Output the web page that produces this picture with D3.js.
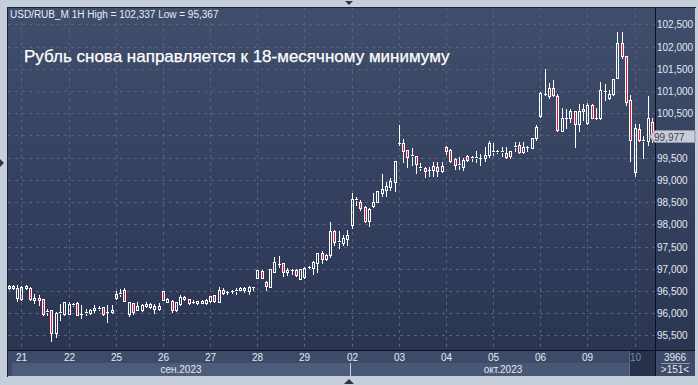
<!DOCTYPE html>
<html>
<head>
<meta charset="utf-8">
<title>USD/RUB_M 1H</title>
<script src="https://cdn.jsdelivr.net/npm/d3@7"></script>
<style>
  body { margin: 0; background: #c5cfdb; }
  svg { display: block; font-family: "Liberation Sans", Arial, sans-serif; }
</style>
</head>
<body>
<svg id="chart" width="698" height="385"></svg>
<script>
// hourly candles, USD/RUB_M, 20 sep - 10 oct 2023 (151 bars on screen)
var open = [96.57,96.62,96.33,96.31,96.57,96.57,96.30,96.34,96.31,96.03,96.06,95.56,96.00,95.97,
  95.98,96.18,96.22,95.97,96.00,96.01,96.07,96.09,96.14,96.02,96.03,
  96.34,96.43,96.51,95.98,96.22,96.07,96.07,96.15,96.21,96.10,96.09,
  96.49,96.26,96.28,96.06,96.20,96.37,96.31,96.25,96.22,96.23,96.22,
  96.27,96.40,96.25,96.52,96.48,96.49,96.49,96.53,96.52,96.50,96.58,
  96.80,96.95,96.70,96.58,96.93,97.11,97.12,96.92,96.97,96.98,96.76,
  96.82,97.04,97.01,97.12,97.36,97.21,97.31,97.84,97.61,97.57,97.66,
  97.99,98.55,98.51,98.40,98.07,98.41,98.51,98.71,98.77,98.83,98.96,
  99.82,99.82,99.67,99.54,99.54,99.28,99.26,99.22,99.22,99.30,99.19,
  99.74,99.68,99.46,99.35,99.30,99.54,99.50,99.50,99.49,99.49,99.55,
  99.63,99.62,99.63,99.60,99.53,99.73,99.79,99.62,99.73,99.71,99.94,
  100.43,100.93,100.88,101.06,100.89,100.10,100.39,100.39,100.55,100.25,100.54,
  100.28,100.69,100.39,100.39,101.00,100.84,100.93,101.29,102.08,101.80,100.80,
  99.17,100.15,99.88,99.88,100.30];
var high = [96.64,96.64,96.64,96.61,96.63,96.58,96.43,96.40,96.32,96.10,96.07,96.03,96.21,96.25,
  96.24,96.22,96.24,96.18,96.09,96.09,96.18,96.15,96.14,96.18,96.18,
  96.49,96.55,96.57,96.25,96.22,96.24,96.20,96.25,96.23,96.21,96.22,
  96.50,96.33,96.29,96.25,96.40,96.38,96.32,96.29,96.28,96.29,96.31,
  96.39,96.41,96.59,96.56,96.50,96.51,96.56,96.59,96.59,96.62,96.59,
  96.98,96.97,96.72,97.00,97.26,97.28,97.14,97.02,97.00,96.99,97.00,
  97.03,97.07,97.18,97.36,97.39,97.34,98.06,97.87,97.84,97.76,97.87,
  98.70,98.62,98.55,98.41,98.36,98.70,98.76,99.13,98.96,99.04,99.43,
  100.24,99.91,99.67,99.71,99.54,99.39,99.28,99.28,99.40,99.40,99.40,
  99.76,99.69,99.49,99.52,99.49,99.56,99.54,99.64,99.58,99.75,99.88,
  99.83,99.67,99.73,99.73,99.65,99.85,99.86,99.85,99.77,99.94,100.24,
  100.97,101.50,101.18,101.25,100.93,100.61,100.60,100.60,100.55,100.70,100.70,
  100.73,100.70,100.61,101.21,101.15,101.03,101.27,102.337,102.34,101.80,100.90,
  100.25,100.25,99.98,100.88,100.40];
var low = [96.55,96.55,96.27,96.30,96.54,96.30,96.22,96.18,95.95,95.95,95.367,95.46,95.84,95.96,
  95.97,96.17,95.95,95.89,95.95,95.99,96.03,96.06,95.95,95.79,96.01,
  96.31,96.39,96.27,95.94,95.97,96.06,96.05,96.13,96.12,96.01,96.07,
  96.29,96.24,96.03,96.04,96.18,96.30,96.20,96.22,96.21,96.22,96.21,
  96.26,96.25,96.24,96.43,96.43,96.46,96.44,96.51,96.47,96.43,96.51,
  96.78,96.78,96.53,96.58,96.93,97.03,96.83,96.85,96.88,96.84,96.76,
  96.80,97.01,96.89,96.93,97.13,97.19,97.27,97.54,97.46,97.54,97.54,
  97.91,98.44,98.32,98.06,97.96,98.40,98.50,98.64,98.64,98.77,98.76,
  99.79,99.41,99.28,99.34,99.16,99.22,99.06,99.09,99.09,99.09,99.17,
  99.58,99.41,99.24,99.24,99.22,99.43,99.43,99.41,99.34,99.43,99.52,
  99.56,99.61,99.53,99.50,99.49,99.65,99.60,99.60,99.64,99.71,99.90,
  100.42,100.91,100.85,100.88,100.09,100.09,100.16,100.31,99.73,100.10,100.35,
  100.25,100.39,100.37,100.37,100.80,100.82,100.92,101.29,101.74,100.69,99.43,
  99.08,99.88,99.49,99.79,99.85];
var close = [96.62,96.57,96.57,96.59,96.60,96.31,96.34,96.30,95.97,96.05,95.55,96.00,96.03,96.24,
  96.21,96.21,95.95,95.99,96.03,96.06,96.11,96.12,95.98,96.03,96.07,
  96.43,96.45,96.27,96.25,96.03,96.16,96.18,96.21,96.13,96.16,96.16,
  96.30,96.31,96.07,96.24,96.36,96.31,96.22,96.26,96.27,96.27,96.30,
  96.38,96.28,96.52,96.46,96.48,96.50,96.53,96.56,96.57,96.59,96.58,
  96.97,96.80,96.61,97.00,97.15,97.11,96.92,96.98,96.96,96.86,97.00,
  97.02,97.04,97.15,97.36,97.22,97.31,97.84,97.61,97.62,97.69,97.76,
  98.57,98.56,98.36,98.07,98.35,98.50,98.74,98.79,98.86,98.98,99.43,
  99.84,99.66,99.51,99.55,99.36,99.27,99.19,99.23,99.31,99.19,99.31,
  99.65,99.43,99.34,99.33,99.45,99.45,99.51,99.51,99.50,99.56,99.82,
  99.66,99.65,99.64,99.51,99.64,99.77,99.62,99.73,99.74,99.94,100.20,
  100.95,100.94,101.06,100.90,100.13,100.39,100.40,100.55,100.25,100.54,100.60,
  100.69,100.40,100.40,101.03,101.01,100.93,101.27,102.08,101.80,100.75,99.90,
  100.16,99.90,99.89,100.40,99.977];

var dayLabels = ["21","22","25","26","27","28","29","02","03","04","05","06","09","10"];
var leadBars = 3;      // bars of 20 sep still on screen
var barsPerDay = 11;
var months = [{label: "сен.2023", from: 0, to: 7}, {label: "окт.2023", from: 7, to: 14}];
var priceTicks = d3.range(95.5, 102.51, 0.5);
var lastPrice = 99.977;

var svg = d3.select("#chart");
var plot = {l: 8, t: 8, r: 655, b: 350};

var x = d3.scaleLinear().domain([0, open.length - 1]).range([8.6, 651.8]);
var y = d3.scaleLinear().domain([95.17, 102.87]).range([plot.b, plot.t]);
var px = function(i) { return Math.round(x(i)); };
var py = function(v) { return Math.round(y(v)); };
var fmt = function(v) { return d3.format(".3f")(v).replace(".", ","); };

var defs = svg.append("defs");
var grad = defs.append("linearGradient").attr("id", "bg").attr("x1", 0).attr("y1", 0).attr("x2", 0).attr("y2", 1);
grad.append("stop").attr("offset", 0).attr("stop-color", "#404e6c");
grad.append("stop").attr("offset", 1).attr("stop-color", "#2a3552");
defs.append("clipPath").attr("id", "plotClip").append("rect")
  .attr("x", plot.l).attr("y", plot.t).attr("width", plot.r - plot.l).attr("height", plot.b - plot.t);

// outer frame
svg.append("rect").attr("width", 698).attr("height", 385).attr("fill", "#c5cfdb");
svg.append("rect").attr("x", plot.l).attr("y", plot.t).attr("width", 695 - plot.l).attr("height", plot.b - plot.t)
  .attr("fill", "url(#bg)");

// grid
var dayStarts = dayLabels.map(function(d, k) { return leadBars + k * barsPerDay; });
svg.append("g").selectAll("line").data(priceTicks).join("line")
  .attr("x1", plot.l).attr("x2", plot.r)
  .attr("y1", function(d) { return py(d) + 0.5; }).attr("y2", function(d) { return py(d) + 0.5; })
  .attr("stroke", "#56637f").attr("stroke-dasharray", "3,4");
svg.append("g").selectAll("line").data(dayStarts).join("line")
  .attr("x1", function(d) { return px(d) + 0.5; }).attr("x2", function(d) { return px(d) + 0.5; })
  .attr("y1", plot.t).attr("y2", plot.b)
  .attr("stroke", "#56637f").attr("stroke-dasharray", "3,4");

// candles
var bars = d3.range(open.length).map(function(i) {
  var top = py(Math.max(open[i], close[i])), bot = py(Math.min(open[i], close[i]));
  return {i: i, cx: px(i), top: top, bot: bot, hi: py(high[i]), lo: py(low[i]), down: close[i] < open[i]};
});
var cg = svg.append("g").attr("clip-path", "url(#plotClip)");
cg.selectAll("line.hi").data(bars).join("line").attr("class", "hi")
  .attr("x1", function(d) { return d.cx + 0.5; }).attr("x2", function(d) { return d.cx + 0.5; })
  .attr("y1", function(d) { return d.hi; }).attr("y2", function(d) { return d.top; })
  .attr("stroke", "#ffffff");
cg.selectAll("line.lo").data(bars).join("line").attr("class", "lo")
  .attr("x1", function(d) { return d.cx + 0.5; }).attr("x2", function(d) { return d.cx + 0.5; })
  .attr("y1", function(d) { return d.bot + 1; }).attr("y2", function(d) { return d.lo + 1; })
  .attr("stroke", "#ffffff");
var flat = bars.filter(function(d) { return d.bot - d.top < 2; });
var solid = bars.filter(function(d) { return d.bot - d.top >= 2; });
cg.selectAll("line.tick").data(flat).join("line").attr("class", "tick")
  .attr("x1", function(d) { return d.cx - 1; }).attr("x2", function(d) { return d.cx + 2; })
  .attr("y1", function(d) { return d.top + 0.5; }).attr("y2", function(d) { return d.top + 0.5; })
  .attr("stroke", "#ffffff");
cg.selectAll("rect.body").data(solid).join("rect").attr("class", "body")
  .attr("x", function(d) { return d.cx - 0.5; }).attr("width", 2)
  .attr("y", function(d) { return d.top + 0.5; }).attr("height", function(d) { return d.bot - d.top; })
  .attr("fill", function(d) { return d.down ? "#e8163c" : "none"; })
  .attr("stroke", "#ffffff");

// frame lines
svg.append("line").attr("x1", plot.r + 0.5).attr("x2", plot.r + 0.5).attr("y1", plot.t).attr("y2", 376).attr("stroke", "#0d111b");
svg.append("line").attr("x1", plot.l).attr("x2", 695).attr("y1", plot.b + 0.5).attr("y2", plot.b + 0.5).attr("stroke", "#0d111b");
svg.append("line").attr("x1", plot.l - 0.5).attr("x2", plot.l - 0.5).attr("y1", plot.t - 1).attr("y2", 377).attr("stroke", "#1c2233");
svg.append("line").attr("x1", plot.l - 1).attr("x2", 696).attr("y1", plot.t - 0.5).attr("y2", plot.t - 0.5).attr("stroke", "#1c2233");

// price axis (the tick hidden under the last-price marker is not drawn)
var ly = py(lastPrice) + 0.5;
svg.append("g").selectAll("text")
  .data(priceTicks.filter(function(d) { return Math.abs(py(d) - ly) > 9; }))
  .join("text")
  .attr("x", 657).attr("y", function(d) { return py(d) + 4; })
  .attr("font-size", "10px").attr("fill", "#e3e9f2")
  .text(fmt);
svg.append("path")
  .attr("d", "M649," + ly + "L655," + (ly - 6) + "H695V" + (ly + 6) + "H655Z")
  .attr("fill", "#c9ced6").attr("stroke", "#8d96a6");
svg.append("text").attr("x", 654).attr("y", ly + 4).attr("font-size", "10px").attr("fill", "#3a4050")
  .text(fmt(lastPrice));

// time axis
var axisG = svg.append("g");
axisG.append("rect").attr("x", plot.l).attr("y", 351).attr("width", plot.r - plot.l).attr("height", 12).attr("fill", "#3e4b68");
months.forEach(function(m, k) {
  var x0 = k === 0 ? 12 : px(dayStarts[m.from]) - 1;
  var x1 = k === 0 ? px(dayStarts[m.to]) - 2 : plot.r;
  axisG.append("rect").attr("x", x0).attr("y", 363).attr("width", x1 - x0).attr("height", 13)
    .attr("fill", k === 0 ? "#4d5c7a" : "#485775");
  axisG.append("text").attr("x", (x0 + x1) / 2).attr("y", 373).attr("text-anchor", "middle")
    .attr("font-size", "10px").attr("fill", "#e3e9f2").text(m.label);
});
axisG.append("rect").attr("x", 8).attr("y", 363).attr("width", 4).attr("height", 13).attr("fill", "#3e4b68");
var lastDay = px(dayStarts[dayStarts.length - 1]) - 6;
axisG.append("rect").attr("x", lastDay).attr("y", 351).attr("width", plot.r - lastDay).attr("height", 25).attr("fill", "#27314b");
axisG.append("line").attr("x1", lastDay + 0.5).attr("x2", lastDay + 0.5).attr("y1", 351).attr("y2", 376).attr("stroke", "#5d6a86");
axisG.selectAll("text.day").data(dayLabels).join("text").attr("class", "day")
  .attr("x", function(d, k) { return px(dayStarts[k]) + 0.5; }).attr("y", 361)
  .attr("text-anchor", "middle").attr("font-size", "10px")
  .attr("fill", function(d, k) { return k === dayLabels.length - 1 ? "#7d8aa6" : "#e3e9f2"; })
  .text(function(d) { return d; });

// bar counter box
svg.append("rect").attr("x", plot.r + 1).attr("y", 351).attr("width", 39).attr("height", 25).attr("fill", "#3e4b68");
svg.append("text").attr("x", 675).attr("y", 361).attr("text-anchor", "middle").attr("font-size", "10px").attr("fill", "#e3e9f2").text("3966");
svg.append("line").attr("x1", 661).attr("x2", 690).attr("y1", 363.5).attr("y2", 363.5).attr("stroke", "#8c97ad");
svg.append("text").attr("x", 675).attr("y", 373).attr("text-anchor", "middle").attr("font-size", "10px").attr("fill", "#e3e9f2").text(">151<");

// headers
svg.append("text").attr("x", 10).attr("y", 18).attr("font-size", "10px").attr("fill", "#e8edf5")
  .text("USD/RUB_M 1H High = 102,337 Low = 95,367");
svg.append("text").attr("x", 24).attr("y", 62).attr("font-size", "17px").attr("fill", "#ffffff")
  .attr("stroke", "#ffffff").attr("stroke-width", 0.25)
  .text("Рубль снова направляется к 18-месячному минимуму");

// scroll markers on the frame
svg.append("path").attr("d", "M345,1H353L349,5Z").attr("fill", "#2f3547");
svg.append("path").attr("d", "M0,159L4,163L0,167Z").attr("fill", "#2f3547");
svg.append("path").attr("d", "M344,384H354L349,379Z").attr("fill", "#2f3547");
</script>
</body>
</html>
